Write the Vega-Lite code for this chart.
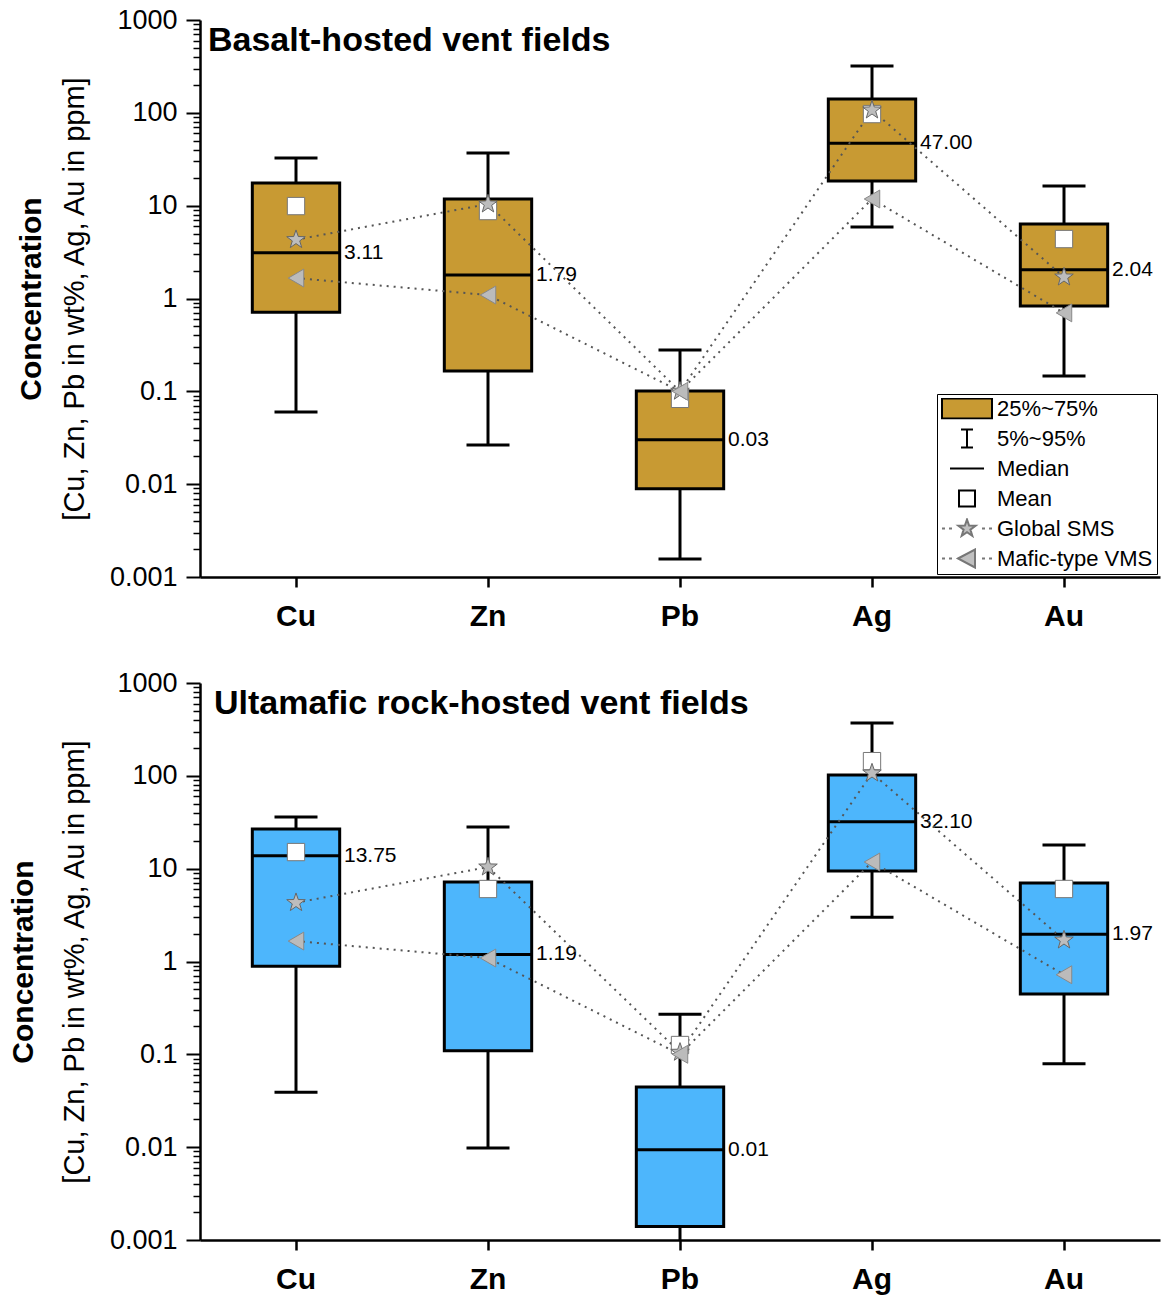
{
  "$schema": "https://vega.github.io/schema/vega-lite/v6.json",
  "background": "white",
  "padding": {"left": 8, "top": 6, "right": 2, "bottom": 2},
  "spacing": 38,
  "resolve": {
    "scale": {"shape": "independent", "fill": "independent", "stroke": "independent"},
    "legend": {"shape": "independent", "fill": "independent", "stroke": "independent"}
  },
  "config": {
    "view": {"stroke": null},
    "font": "Liberation Sans",
    "axis": {"grid": false, "domainColor": "black", "tickColor": "black", "labelColor": "black", "titleColor": "black", "labelFont": "Liberation Sans", "titleFont": "Liberation Sans"}
  },
  "datasets": {
    "basalt": [
      {"el": "Cu", "i": 1, "lo": 0.06, "q1": 0.71, "med": 3.11, "q3": 17.5, "hi": 32.6, "mean": 9.9, "sms": 4.3, "mafic": 1.66},
      {"el": "Zn", "i": 2, "lo": 0.0264, "q1": 0.166, "med": 1.79, "q3": 11.8, "hi": 36.9, "mean": 8.75, "sms": 10.4, "mafic": 1.09},
      {"el": "Pb", "i": 3, "lo": 0.00156, "q1": 0.0089, "med": 0.03, "q3": 0.1007, "hi": 0.279, "mean": 0.083, "sms": 0.1, "mafic": 0.1},
      {"el": "Ag", "i": 4, "lo": 5.9, "q1": 18.4, "med": 47.0, "q3": 141, "hi": 319, "mean": 97, "sms": 107, "mafic": 11.8},
      {"el": "Au", "i": 5, "lo": 0.146, "q1": 0.83, "med": 2.04, "q3": 6.34, "hi": 16.3, "mean": 4.37, "sms": 1.7, "mafic": 0.7}
    ],
    "ultra": [
      {"el": "Cu", "i": 1, "lo": 0.039, "q1": 0.89, "med": 13.75, "q3": 26.7, "hi": 36, "mean": 15.1, "sms": 4.3, "mafic": 1.66},
      {"el": "Zn", "i": 2, "lo": 0.0098, "q1": 0.109, "med": 1.19, "q3": 7.18, "hi": 28.1, "mean": 6.04, "sms": 10.4, "mafic": 1.09},
      {"el": "Pb", "i": 3, "lo": 0.0008, "q1": 0.0014, "med": 0.0094, "q3": 0.0445, "hi": 0.27, "mean": 0.126, "sms": 0.105, "mafic": 0.1},
      {"el": "Ag", "i": 4, "lo": 3.0, "q1": 9.44, "med": 32.1, "q3": 102, "hi": 371, "mean": 144, "sms": 107, "mafic": 11.8},
      {"el": "Au", "i": 5, "lo": 0.079, "q1": 0.447, "med": 1.97, "q3": 7.0, "hi": 18, "mean": 6.04, "sms": 1.7, "mafic": 0.72}
    ],
    "legend": [
      {"leg": "25%~75%"},
      {"leg": "5%~95%"},
      {"leg": "Median"},
      {"leg": "Mean"},
      {"leg": "Global SMS"},
      {"leg": "Mafic-type VMS"}
    ]
  },
  "vconcat": [
    {
      "width": 960,
      "height": 557,
      "data": {"name": "basalt"},
      "resolve": {"axis": {"y": "independent"}},
      "layer": [
        {
          "mark": {"type": "bar", "fill": "#c89a33", "stroke": "black", "strokeWidth": 3, "width": {"band": 0.455}},
          "encoding": {
            "x": {"field": "el", "type": "nominal", "scale": {"domain": ["Cu", "Zn", "Pb", "Ag", "Au"], "paddingInner": 0, "paddingOuter": 0},
                  "axis": {"title": null, "labelFontSize": 30, "labelFontWeight": "bold", "labelAngle": 0, "tickSize": 10, "tickWidth": 2.5, "domainWidth": 2.5, "labelPadding": 14}},
            "y": {"field": "q1", "type": "quantitative", "scale": {"type": "log", "domain": [0.001, 1000], "nice": false},
                  "axis": {"orient": "left", "values": [0.001, 0.01, 0.1, 1, 10, 100, 1000], "format": "~g", "labelFontSize": 27, "labelFlush": false, "labelOverlap": false, "tickSize": 14, "tickWidth": 2, "domainWidth": 2.5, "labelPadding": 9, "title": "[Cu, Zn, Pb in wt%, Ag, Au in ppm]", "titleFontSize": 29, "titleFontWeight": "normal", "titlePadding": 20}},
            "y2": {"field": "q3"}
          }
        },
        {
          "mark": {"type": "rule", "color": "black", "strokeWidth": 3, "clip": true},
          "encoding": {
            "x": {"field": "el", "type": "nominal"},
            "y": {"field": "q3", "type": "quantitative", "axis": {"orient": "left", "values": [0.002,0.003,0.004,0.005,0.006,0.007,0.008,0.009,0.02,0.03,0.04,0.05,0.06,0.07,0.08,0.09,0.2,0.3,0.4,0.5,0.6,0.7,0.8,0.9,2,3,4,5,6,7,8,9,20,30,40,50,60,70,80,90,200,300,400,500,600,700,800,900], "labels": false, "domain": false, "tickSize": 7, "tickWidth": 1.5, "title": "Concentration", "titleFontSize": 30, "titleFontWeight": "bold", "titlePadding": 146}},
            "y2": {"field": "hi"}
          }
        },
        {
          "mark": {"type": "rule", "color": "black", "strokeWidth": 3, "clip": true},
          "encoding": {
            "x": {"field": "el", "type": "nominal"},
            "y": {"field": "lo", "type": "quantitative", "axis": null},
            "y2": {"field": "q1"}
          }
        },
        {
          "mark": {"type": "tick", "color": "black", "thickness": 3, "size": 43, "opacity": 1, "clip": true},
          "encoding": {
            "x": {"field": "el", "type": "nominal"},
            "y": {"field": "hi", "type": "quantitative", "axis": null}
          }
        },
        {
          "mark": {"type": "tick", "color": "black", "thickness": 3, "size": 43, "opacity": 1, "clip": true},
          "encoding": {
            "x": {"field": "el", "type": "nominal"},
            "y": {"field": "lo", "type": "quantitative", "axis": null}
          }
        },
        {
          "mark": {"type": "tick", "color": "black", "thickness": 3, "size": 87, "opacity": 1},
          "encoding": {
            "x": {"field": "el", "type": "nominal"},
            "y": {"field": "med", "type": "quantitative", "axis": null}
          }
        },
        {
          "mark": {"type": "text", "align": "left", "baseline": "middle", "dx": 48, "fontSize": 21, "font": "Liberation Sans", "color": "black"},
          "encoding": {
            "x": {"field": "el", "type": "nominal"},
            "y": {"field": "med", "type": "quantitative", "axis": null},
            "text": {"field": "med", "type": "quantitative", "format": ".2f"}
          }
        },
        {
          "mark": {"type": "line", "stroke": "#555555", "strokeWidth": 2, "strokeDash": [2, 5]},
          "encoding": {
            "x": {"field": "el", "type": "nominal"},
            "y": {"field": "sms", "type": "quantitative", "axis": null},
            "order": {"field": "i", "type": "quantitative"}
          }
        },
        {
          "mark": {"type": "line", "stroke": "#555555", "strokeWidth": 2, "strokeDash": [2, 5]},
          "encoding": {
            "x": {"field": "el", "type": "nominal"},
            "y": {"field": "mafic", "type": "quantitative", "axis": null},
            "order": {"field": "i", "type": "quantitative"}
          }
        },
        {
          "mark": {"type": "point", "shape": "square", "filled": true, "fill": "white", "stroke": "#777777", "strokeWidth": 1, "size": 300, "opacity": 1},
          "encoding": {
            "x": {"field": "el", "type": "nominal"},
            "y": {"field": "mean", "type": "quantitative", "axis": null}
          }
        },
        {
          "mark": {"type": "point", "shape": "M0,-1L0.235,-0.324L0.951,-0.309L0.38,0.124L0.588,0.809L0,0.4L-0.588,0.809L-0.38,0.124L-0.951,-0.309L-0.235,-0.324Z", "filled": true, "fill": "#bdbdbd", "stroke": "#666666", "strokeWidth": 1, "size": 380, "opacity": 1},
          "encoding": {
            "x": {"field": "el", "type": "nominal"},
            "y": {"field": "sms", "type": "quantitative", "axis": null}
          }
        },
        {
          "mark": {"type": "point", "shape": "triangle-left", "filled": true, "fill": "#bbbbbb", "stroke": "#888888", "strokeWidth": 1, "size": 320, "opacity": 1},
          "encoding": {
            "x": {"field": "el", "type": "nominal"},
            "y": {"field": "mafic", "type": "quantitative", "axis": null}
          }
        },
        {
          "data": {"values": [{}]},
          "mark": {"type": "text", "align": "left", "baseline": "middle", "dx": 8, "dy": 21, "fontSize": 34, "fontWeight": "bold", "font": "Liberation Sans", "color": "black"},
          "encoding": {
            "x": {"datum": "Cu", "bandPosition": 0},
            "y": {"datum": 1000, "type": "quantitative", "axis": null},
            "text": {"value": "Basalt-hosted vent fields"}
          }
        },
        {
          "data": {"name": "legend"},
          "mark": {"type": "point", "filled": true, "strokeWidth": 2, "opacity": 1, "clip": true},
          "encoding": {
            "x": {"datum": "Cu"},
            "y": {"datum": 0.00001, "type": "quantitative", "axis": null},
            "shape": {"field": "leg", "type": "nominal",
              "scale": {"domain": ["25%~75%", "5%~95%", "Median", "Mean", "Global SMS", "Mafic-type VMS"],
                        "range": ["M-1,-1H4V1H-1Z", "M0.9,-0.9H2.1M1.5,-0.9V0.9M0.9,0.9H2.1", "M-0.2,0H3.2", "M0.7,-0.8H2.3V0.8H0.7Z",
                                  "M-1,0H-0.7M-0.3,0H0M3,0H3.3M3.7,0H4M1.5,-0.9L1.71,-0.29L2.36,-0.28L1.84,0.11L2.03,0.73L1.5,0.36L0.97,0.73L1.16,0.11L0.64,-0.28L1.29,-0.29Z",
                                  "M-1,0H-0.7M-0.3,0H0M3,0H3.3M3.7,0H4M0.6,0L2.3,-0.9L2.3,0.9Z"]},
              "legend": {"title": null, "orient": "bottom-right", "offset": 3, "padding": 4, "strokeColor": "black", "fillColor": "white", "labelFontSize": 22, "labelFont": "Liberation Sans", "labelColor": "black", "symbolSize": 400, "symbolStrokeWidth": 2, "labelOffset": 34, "clipHeight": 21, "rowPadding": 7, "labelLimit": 300}},
            "fill": {"field": "leg", "type": "nominal",
              "scale": {"domain": ["25%~75%", "5%~95%", "Median", "Mean", "Global SMS", "Mafic-type VMS"],
                        "range": ["#c89a33", "transparent", "transparent", "white", "#c0c0c0", "#c0c0c0"]}},
            "stroke": {"field": "leg", "type": "nominal",
              "scale": {"domain": ["25%~75%", "5%~95%", "Median", "Mean", "Global SMS", "Mafic-type VMS"],
                        "range": ["black", "black", "black", "black", "#777777", "#777777"]}}
          }
        }
      ]
    },
    {
      "width": 960,
      "height": 557,
      "data": {"name": "ultra"},
      "resolve": {"axis": {"y": "independent"}},
      "layer": [
        {
          "mark": {"type": "bar", "fill": "#4db6fc", "stroke": "black", "strokeWidth": 3, "width": {"band": 0.455}},
          "encoding": {
            "x": {"field": "el", "type": "nominal", "scale": {"domain": ["Cu", "Zn", "Pb", "Ag", "Au"], "paddingInner": 0, "paddingOuter": 0},
                  "axis": {"title": null, "labelFontSize": 30, "labelFontWeight": "bold", "labelAngle": 0, "tickSize": 10, "tickWidth": 2.5, "domainWidth": 2.5, "labelPadding": 14}},
            "y": {"field": "q1", "type": "quantitative", "scale": {"type": "log", "domain": [0.001, 1000], "nice": false},
                  "axis": {"orient": "left", "values": [0.001, 0.01, 0.1, 1, 10, 100, 1000], "format": "~g", "labelFontSize": 27, "labelFlush": false, "labelOverlap": false, "tickSize": 14, "tickWidth": 2, "domainWidth": 2.5, "labelPadding": 9, "title": "[Cu, Zn, Pb in wt%, Ag, Au in ppm]", "titleFontSize": 29, "titleFontWeight": "normal", "titlePadding": 20}},
            "y2": {"field": "q3"}
          }
        },
        {
          "mark": {"type": "rule", "color": "black", "strokeWidth": 3, "clip": true},
          "encoding": {
            "x": {"field": "el", "type": "nominal"},
            "y": {"field": "q3", "type": "quantitative", "axis": {"orient": "left", "values": [0.002,0.003,0.004,0.005,0.006,0.007,0.008,0.009,0.02,0.03,0.04,0.05,0.06,0.07,0.08,0.09,0.2,0.3,0.4,0.5,0.6,0.7,0.8,0.9,2,3,4,5,6,7,8,9,20,30,40,50,60,70,80,90,200,300,400,500,600,700,800,900], "labels": false, "domain": false, "tickSize": 7, "tickWidth": 1.5, "title": "Concentration", "titleFontSize": 30, "titleFontWeight": "bold", "titlePadding": 154}},
            "y2": {"field": "hi"}
          }
        },
        {
          "mark": {"type": "rule", "color": "black", "strokeWidth": 3, "clip": true},
          "encoding": {
            "x": {"field": "el", "type": "nominal"},
            "y": {"field": "lo", "type": "quantitative", "axis": null},
            "y2": {"field": "q1"}
          }
        },
        {
          "mark": {"type": "tick", "color": "black", "thickness": 3, "size": 43, "opacity": 1, "clip": true},
          "encoding": {
            "x": {"field": "el", "type": "nominal"},
            "y": {"field": "hi", "type": "quantitative", "axis": null}
          }
        },
        {
          "mark": {"type": "tick", "color": "black", "thickness": 3, "size": 43, "opacity": 1, "clip": true},
          "encoding": {
            "x": {"field": "el", "type": "nominal"},
            "y": {"field": "lo", "type": "quantitative", "axis": null}
          }
        },
        {
          "mark": {"type": "tick", "color": "black", "thickness": 3, "size": 87, "opacity": 1},
          "encoding": {
            "x": {"field": "el", "type": "nominal"},
            "y": {"field": "med", "type": "quantitative", "axis": null}
          }
        },
        {
          "mark": {"type": "text", "align": "left", "baseline": "middle", "dx": 48, "fontSize": 21, "font": "Liberation Sans", "color": "black"},
          "encoding": {
            "x": {"field": "el", "type": "nominal"},
            "y": {"field": "med", "type": "quantitative", "axis": null},
            "text": {"field": "med", "type": "quantitative", "format": ".2f"}
          }
        },
        {
          "mark": {"type": "line", "stroke": "#555555", "strokeWidth": 2, "strokeDash": [2, 5]},
          "encoding": {
            "x": {"field": "el", "type": "nominal"},
            "y": {"field": "sms", "type": "quantitative", "axis": null},
            "order": {"field": "i", "type": "quantitative"}
          }
        },
        {
          "mark": {"type": "line", "stroke": "#555555", "strokeWidth": 2, "strokeDash": [2, 5]},
          "encoding": {
            "x": {"field": "el", "type": "nominal"},
            "y": {"field": "mafic", "type": "quantitative", "axis": null},
            "order": {"field": "i", "type": "quantitative"}
          }
        },
        {
          "mark": {"type": "point", "shape": "square", "filled": true, "fill": "white", "stroke": "#777777", "strokeWidth": 1, "size": 300, "opacity": 1},
          "encoding": {
            "x": {"field": "el", "type": "nominal"},
            "y": {"field": "mean", "type": "quantitative", "axis": null}
          }
        },
        {
          "mark": {"type": "point", "shape": "M0,-1L0.235,-0.324L0.951,-0.309L0.38,0.124L0.588,0.809L0,0.4L-0.588,0.809L-0.38,0.124L-0.951,-0.309L-0.235,-0.324Z", "filled": true, "fill": "#bdbdbd", "stroke": "#666666", "strokeWidth": 1, "size": 380, "opacity": 1},
          "encoding": {
            "x": {"field": "el", "type": "nominal"},
            "y": {"field": "sms", "type": "quantitative", "axis": null}
          }
        },
        {
          "mark": {"type": "point", "shape": "triangle-left", "filled": true, "fill": "#bbbbbb", "stroke": "#888888", "strokeWidth": 1, "size": 320, "opacity": 1},
          "encoding": {
            "x": {"field": "el", "type": "nominal"},
            "y": {"field": "mafic", "type": "quantitative", "axis": null}
          }
        },
        {
          "data": {"values": [{}]},
          "mark": {"type": "text", "align": "left", "baseline": "middle", "dx": 14, "dy": 21, "fontSize": 34, "fontWeight": "bold", "font": "Liberation Sans", "color": "black"},
          "encoding": {
            "x": {"datum": "Cu", "bandPosition": 0},
            "y": {"datum": 1000, "type": "quantitative", "axis": null},
            "text": {"value": "Ultamafic rock-hosted vent fields"}
          }
        }
      ]
    }
  ]
}
